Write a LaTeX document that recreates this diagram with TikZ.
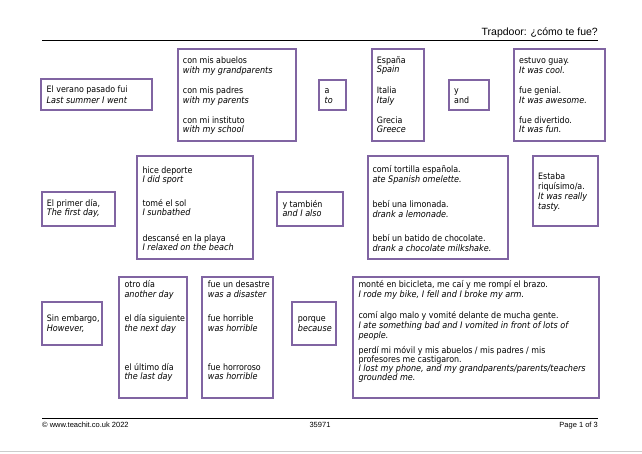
\documentclass[tikz,border=0pt]{standalone}
\usepackage{fontspec}
\usetikzlibrary{fit}
\setmainfont{Liberation Sans}
\newfontfamily\boxfont{DejaVuSansCondensed.ttf}[ItalicFont=DejaVuSansCondensed-Oblique.ttf]
\definecolor{boxpurple}{HTML}{8064A2}
\tikzset{
  box/.style={draw=boxpurple, line width=2.6pt, inner sep=0pt},
  es/.style={anchor=base west, inner sep=0pt, font=\boxfont\fontsize{8.8}{9}\selectfont},
  en/.style={es, font=\boxfont\itshape\fontsize{9}{9}\selectfont},
  hdr/.style={inner sep=0pt, font=\fontsize{10.5}{11}\selectfont},
  ftr/.style={inner sep=0pt, font=\fontsize{7.5}{8}\selectfont},
}
\begin{document}
\begin{tikzpicture}[x=1pt, y=-1pt]
\useasboundingbox (0,0) rectangle (642,453);
% header / footer
\node[hdr, anchor=base east] (title) at (598,35) {Trapdoor: ¿cómo te fue?};
\coordinate (hl) at (42,40); \coordinate (hr) at (598,40);
\draw[line width=1pt] (hl) -- (hr);
\coordinate (fl) at (42,418); \coordinate (fr) at (598,418);
\draw[line width=1pt] (fl) -- (fr);
\node[ftr, anchor=base west] (copy) at (42,427.5) {© www.teachit.co.uk 2022};
\node[ftr, anchor=base] (num) at (320,427.5) {35971};
\node[ftr, anchor=base east] (page) at (598,427.5) {Page 1 of 3};
\coordinate (gl) at (0,451.5); \coordinate (gr) at (642,451.5);
\draw[line width=1.5pt, black!20] (gl) -- (gr);

% Row 1
\node[box, fit={(41,79) (152,110)}] (b1) {};
\node[es] (t1a) at (46.5,92.7) {El verano pasado fui};
\node[en] (t1b) at (46.5,103.7) {Last summer I went};

\node[box, fit={(178,49) (296,141)}] (b2) {};
\node[es] (t2a) at (182.7,63.4) {con mis abuelos};
\node[en] (t2b) at (182.7,73) {with my grandparents};
\node[es] (t2c) at (182.7,93.7) {con mis padres};
\node[en] (t2d) at (182.7,103.7) {with my parents};
\node[es] (t2e) at (182.7,123.7) {con mi instituto};
\node[en] (t2f) at (182.7,132.7) {with my school};

\node[box, fit={(319,80) (346,110)}] (b3) {};
\node[es] (t3a) at (324.5,93.7) {a};
\node[en] (t3b) at (324.5,103.4) {to};

\node[box, fit={(372,49) (424,141)}] (b4) {};
\node[es] (t4a) at (376.7,63.4) {España};
\node[en] (t4b) at (376.7,72.7) {Spain};
\node[es] (t4c) at (376.7,93.4) {Italia};
\node[en] (t4d) at (376.7,103.4) {Italy};
\node[es] (t4e) at (376.7,123.7) {Grecia};
\node[en] (t4f) at (376.7,132.7) {Greece};

\node[box, fit={(449,80) (489,110)}] (b5) {};
\node[es] (t5a) at (454,93.4) {y};
\node[es] (t5b) at (454,103.4) {and};

\node[box, fit={(514,49) (605,141)}] (b6) {};
\node[es] (t6a) at (519,63.4) {estuvo guay.};
\node[en] (t6b) at (519,73) {It was cool.};
\node[es] (t6c) at (519,93.7) {fue genial.};
\node[en] (t6d) at (519,103.7) {It was awesome.};
\node[es] (t6e) at (519,123.7) {fue divertido.};
\node[en] (t6f) at (519,132.7) {It was fun.};

% Row 2
\node[box, fit={(42,192) (115,226)}] (b7) {};
\node[es] (t7a) at (46.7,206) {El primer día,};
\node[en] (t7b) at (46.7,215.4) {The first day,};

\node[box, fit={(137,156) (253,259)}] (b8) {};
\node[es] (t8a) at (142.3,173.4) {hice deporte};
\node[en] (t8b) at (142.3,182) {I did sport};
\node[es] (t8c) at (142.3,206) {tomé el sol};
\node[en] (t8d) at (142.3,215.7) {I sunbathed};
\node[es] (t8e) at (142.3,241.4) {descansé en la playa};
\node[en] (t8f) at (142.3,250.7) {I relaxed on the beach};

\node[box, fit={(277,192) (343,226)}] (b9) {};
\node[es] (t9a) at (282.3,207) {y también};
\node[en] (t9b) at (282.3,216.7) {and I also};

\node[box, fit={(368,156) (508,259)}] (b10) {};
\node[es] (t10a) at (372.3,172.7) {comí tortilla española.};
\node[en] (t10b) at (372.3,182) {ate Spanish omelette.};
\node[es] (t10c) at (372.3,207) {bebí una limonada.};
\node[en] (t10d) at (372.3,217) {drank a lemonade.};
\node[es] (t10e) at (372.3,241) {bebí un batido de chocolate.};
\node[en] (t10f) at (372.3,251) {drank a chocolate milkshake.};

\node[box, fit={(533,156) (598,226)}] (b11) {};
\node[es] (t11a) at (538,179.4) {Estaba};
\node[es] (t11b) at (538,189.7) {riquísimo/a.};
\node[en] (t11c) at (538,199) {It was really};
\node[en] (t11d) at (538,209.4) {tasty.};

% Row 3
\node[box, fit={(42,302) (102,345)}] (b12) {};
\node[es] (t12a) at (46.7,321) {Sin embargo,};
\node[en] (t12b) at (46.7,331) {However,};

\node[box, fit={(119,277) (187,398)}] (b13) {};
\node[es] (t13a) at (124.3,287) {otro día};
\node[en] (t13b) at (124.3,297) {another day};
\node[es] (t13c) at (124.3,321) {el día siguiente};
\node[en] (t13d) at (124.3,331) {the next day};
\node[es] (t13e) at (124.3,370) {el último día};
\node[en] (t13f) at (124.3,379.4) {the last day};

\node[box, fit={(202,277) (273,398)}] (b14) {};
\node[es] (t14a) at (207.7,287) {fue un desastre};
\node[en] (t14b) at (207.7,297) {was a disaster};
\node[es] (t14c) at (207.7,321) {fue horrible};
\node[en] (t14d) at (207.7,331) {was horrible};
\node[es] (t14e) at (207.7,370) {fue horroroso};
\node[en] (t14f) at (207.7,379.4) {was horrible};

\node[box, fit={(292,302) (336,345)}] (b15) {};
\node[es] (t15a) at (297.7,321) {porque};
\node[en] (t15b) at (297.7,331) {because};

\node[box, fit={(353,277) (599,398)}] (b16) {};
\node[es] (t16a) at (358.3,287) {monté en bicicleta, me caí y me rompí el brazo.};
\node[en] (t16b) at (358.3,297.7) {I rode my bike, I fell and I broke my arm.};
\node[es] (t16c) at (358.3,318.7) {comí algo malo y vomité delante de mucha gente.};
\node[en] (t16d) at (358.3,328.7) {I ate something bad and I vomited in front of lots of};
\node[en] (t16e) at (358.3,338) {people.};
\node[es] (t16f) at (358.3,353.7) {perdí mi móvil y mis abuelos / mis padres / mis};
\node[es] (t16g) at (358.3,362) {profesores me castigaron.};
\node[en] (t16h) at (358.3,371) {I lost my phone, and my grandparents/parents/teachers};
\node[en] (t16i) at (358.3,380.4) {grounded me.};
\end{tikzpicture}
\end{document}
